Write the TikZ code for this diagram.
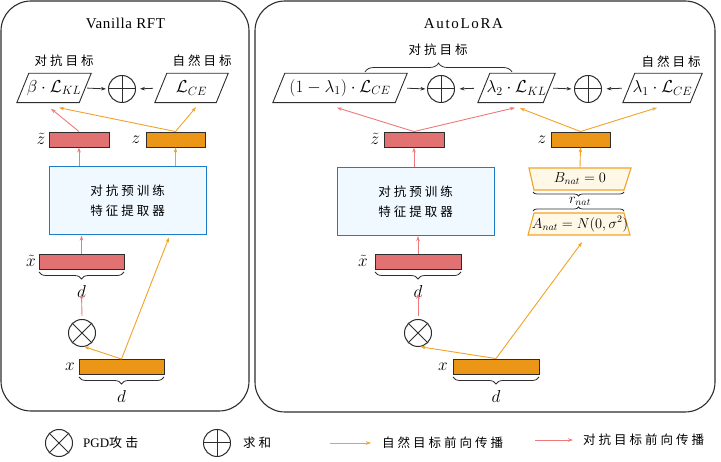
\documentclass[tikz,border=0pt]{standalone}
\usepackage{fontspec}
\setmainfont{Liberation Serif}
\newfontfamily\cjk[LetterSpace=24]{Noto Sans CJK SC}
\newfontfamily\tfa[LetterSpace=4]{Liberation Serif}
\newfontfamily\tfb[LetterSpace=11]{Liberation Serif}
\usetikzlibrary{arrows.meta,calc,decorations.pathreplacing}
\definecolor{pinkc}{RGB}{226,113,113}
\definecolor{pinkl}{RGB}{236,122,122}
\definecolor{orgc}{RGB}{236,150,24}
\definecolor{orgl}{RGB}{243,162,40}
\definecolor{bluec}{RGB}{30,125,200}
\definecolor{bluef}{RGB}{240,249,255}
\definecolor{creamf}{RGB}{255,248,231}
\definecolor{dk}{RGB}{45,45,45}
\begin{document}
\begin{tikzpicture}[x=1pt,y=-1pt,
  panel/.style={draw=dk,line width=1.1pt,rounded corners=30pt},
  bar/.style={draw=dk,line width=0.9pt,minimum height=15pt,inner sep=0pt},
  pbar/.style={bar,fill=pinkc,minimum width=#1},
  obar/.style={bar,fill=orgc,minimum width=#1},
  para/.style={minimum width=#1,minimum height=29pt,inner sep=0pt,font=\fontsize{16.5}{19}\selectfont},
  pline/.style={draw=dk,line width=0.9pt},
  opc/.style={circle,draw=dk,line width=1pt,minimum size=27pt,inner sep=0pt},
  fext/.style={draw=bluec,fill=bluef,line width=1pt,minimum width=157pt,minimum height=68pt,align=center,font=\cjk\fontsize{12.5}{20}\selectfont},
  cn/.style={font=\cjk\fontsize{12.5}{15}\selectfont},
  ml/.style={font=\fontsize{16.5}{18}\selectfont,inner sep=0pt},
  sm/.style={font=\fontsize{14}{16}\selectfont,inner sep=0pt},
  parr/.style={draw=pinkl,line width=0.9pt,-{Stealth[length=5pt,width=3.5pt]}},
  oarr/.style={draw=orgl,line width=0.9pt,-{Stealth[length=5pt,width=3.5pt]}},
  karr/.style={draw=dk,line width=0.8pt,-{Stealth[length=5pt,width=3.5pt]}},
  brc/.style={decorate,decoration={brace,amplitude=#1},draw=dk,line width=0.8pt},
  brcm/.style={decorate,decoration={brace,mirror,amplitude=#1},draw=dk,line width=0.8pt},
  trap/.style={draw=orgl,fill=creamf,line width=1.1pt},
]
\useasboundingbox (0,0) rectangle (721,462);
% panels
\draw[panel] (1,1) rectangle (249,411);
\draw[panel] (255,1) rectangle (715,412);
\node[font=\tfa\fontsize{15}{17}\selectfont] (t1) at (125.5,23) {Vanilla RFT};
\node[font=\tfb\fontsize{15}{17}\selectfont] (t2) at (463.5,24) {AutoLoRA};

% ---------- left panel ----------
\node[cn] (l1) at (64,61) {对抗目标};
\node[cn] (l2) at (202,61) {自然目标};
\node[para=62pt] (pa) at (54,88) {$\beta\cdot\mathcal{L}_{KL}$};
\node[opc] (sa) at (122,89) {};
\node[para=61pt] (pb) at (191.5,88) {$\mathcal{L}_{CE}$};
\node[pbar=60pt] (zt1) at (79,139.5) {};
\node[obar=59pt] (z1) at (175.5,139.5) {};
\node[ml] (zt1l) at (41,139) {$\tilde{z}$};
\node[ml] (z1l) at (136,140) {$z$};
\node[fext] (f1) at (127.5,201) {对抗预训练\\特征提取器};
\node[pbar=85pt] (xt1) at (81.5,261.5) {};
\node[ml] (xt1l) at (31,261) {$\tilde{x}$};
\node[ml] (d1) at (81.5,292) {$d$};
\node[opc] (ot1) at (82,333) {};
\node[obar=85pt] (x1) at (121.5,367) {};
\node[ml] (x1l) at (70,367) {$x$};
\node[ml] (d2) at (121.5,397) {$d$};

\draw[karr,shorten <=2pt,shorten >=2pt] (pa.east) -- (sa.west);
\draw[karr,shorten <=8pt,shorten >=4pt] (pb.west) -- (sa.east);
\draw[parr] (zt1.north) -- ($(pa.south)+(-3,6)$);
\draw[oarr] (z1.north) -- ($(pa.south)+(5,5)$);
\draw[oarr] (z1.north) -- ($(pb.south)+(4.5,4.5)$);
\draw[parr] (zt1.south |- f1.north) -- (zt1.south);
\draw[oarr] (z1.south |- f1.north) -- (z1.south);
\draw[parr] (xt1.north) -- (xt1.north |- f1.south);
\draw[parr] ($(ot1.north)+(0,-3)$) -- ($(d1.north)+(0,8)$);
\draw[oarr] (x1.north) -- (ot1.-80);
\draw[oarr] (x1.north) -- ($(f1.south)+(41.5,2)$);
\draw[brcm=7pt] (39,272) -- (124,272);
\draw[brcm=7pt] (79,377) -- (164,377);

% ---------- right panel ----------
\node[cn] (r1) at (438,50) {对抗目标};
\node[cn] (r2) at (671,62) {自然目标};
\draw[brc=9pt] (365,72) -- (512,72);
\node[para=122pt] (p1) at (340,88) {$(1-\lambda_1)\cdot\mathcal{L}_{CE}$};
\node[opc] (c1) at (441,89) {};
\node[para=65pt] (p2) at (516.5,88) {$\lambda_2\cdot\mathcal{L}_{KL}$};
\node[opc] (c2) at (588,89) {};
\node[para=67pt] (p3) at (662.5,88) {$\lambda_1\cdot\mathcal{L}_{CE}$};
\node[pbar=60pt] (zt2) at (414,139.5) {};
\node[obar=59pt] (z2) at (580.5,139.5) {};
\node[ml] (zt2l) at (375,139) {$\tilde{z}$};
\node[ml] (z2l) at (542,140) {$z$};
\node[fext] (f2) at (415.5,201.5) {对抗预训练\\特征提取器};
\draw[trap] (529,168) -- (631,168) -- (624,190) -- (534,190) -- cycle;
\node[sm,minimum height=22pt] (bn) at (580,179) {$B_{nat}=0$};
\draw[brcm=4pt] (533,192) -- (624,192);
\node[sm] (rn) at (580,201) {$r_{nat}$};
\draw[brc=4pt] (533,211) -- (624,211);
\draw[trap] (534,213) -- (624,213) -- (630,235) -- (528,235) -- cycle;
\node[sm,minimum height=22pt] (an) at (580,224) {$A_{nat}=N(0,\sigma^2)$};
\node[pbar=86pt] (xt2) at (418,261.5) {};
\node[ml] (xt2l) at (363,261) {$\tilde{x}$};
\node[ml] (d3) at (418,292) {$d$};
\node[opc] (ot2) at (418,333) {};
\node[obar=86pt] (x2) at (496,366.5) {};
\node[ml] (x2l) at (443,367) {$x$};
\node[ml] (d4) at (496,397) {$d$};

\draw[karr,shorten <=6pt,shorten >=1.5pt] (p1.east) -- (c1.west);
\draw[karr,shorten <=10pt,shorten >=4.5pt] (p2.west) -- (c1.east);
\draw[karr,shorten <=4pt,shorten >=2.5pt] (p2.east) -- (c2.west);
\draw[karr,shorten <=7pt,shorten >=4.5pt] (p3.west) -- (c2.east);
\draw[parr] (zt2.north) -- ($(p1.south)+(-3,5)$);
\draw[parr] (zt2.north) -- ($(p2.south)+(-1.5,5)$);
\draw[oarr] (z2.north) -- ($(p2.south)+(3.5,5.5)$);
\draw[oarr] (z2.north) -- ($(p3.south)+(-5.5,5)$);
\draw[parr] (zt2.south |- f2.north) -- (zt2.south);
\draw[oarr] (bn.north) -- (z2.south);
\draw[parr] (xt2.north) -- (xt2.north |- f2.south);
\draw[parr] ($(ot2.north)+(0,-3)$) -- ($(d3.north)+(0,8)$);
\draw[oarr] (x2.north) -- (ot2.-80);
\draw[oarr] (x2.north) -- ($(an.south)+(2,7)$);
\draw[brcm=7pt] (375,272) -- (461,272);
\draw[brcm=7pt] (453,377) -- (539,377);

% parallelogram outlines
\foreach \n in {pa,pb,p1,p2,p3}
  \draw[pline] ($(\n.north west)+(6,0)$) -- ($(\n.north east)+(6,0)$) -- ($(\n.south east)+(-6,0)$) -- ($(\n.south west)+(-6,0)$) -- cycle;

% ---------- legend ----------
\node[opc] (lg1) at (59,443) {};
\node[anchor=west,inner sep=0pt] (lg1t) at (83,443) {\fontsize{13}{15}\selectfont PGD\cjk 攻击};
\node[opc] (lg2) at (217,443) {};
\node[cn,anchor=west,inner sep=0pt] (lg2t) at (243,443) {求和};
\coordinate (lo1) at (330,443);
\node[cn,anchor=west,inner sep=0pt] (lg3t) at (382,443) {自然目标前向传播};
\draw[oarr,shorten >=11pt] (lo1) -- (lg3t.west);
\coordinate (lp1) at (535,440);
\node[cn,anchor=west,inner sep=0pt] (lg4t) at (583,440) {对抗目标前向传播};
\draw[parr,shorten >=10pt] (lp1) -- (lg4t.west);

% circle marks
\foreach \n in {sa,c1,c2,lg2}
  \draw[dk,line width=1pt] (\n.north) -- (\n.south) (\n.west) -- (\n.east);
\foreach \n in {ot1,ot2,lg1}
  \draw[dk,line width=1pt] (\n.north east) -- (\n.south west) (\n.north west) -- (\n.south east);
\end{tikzpicture}
\end{document}
